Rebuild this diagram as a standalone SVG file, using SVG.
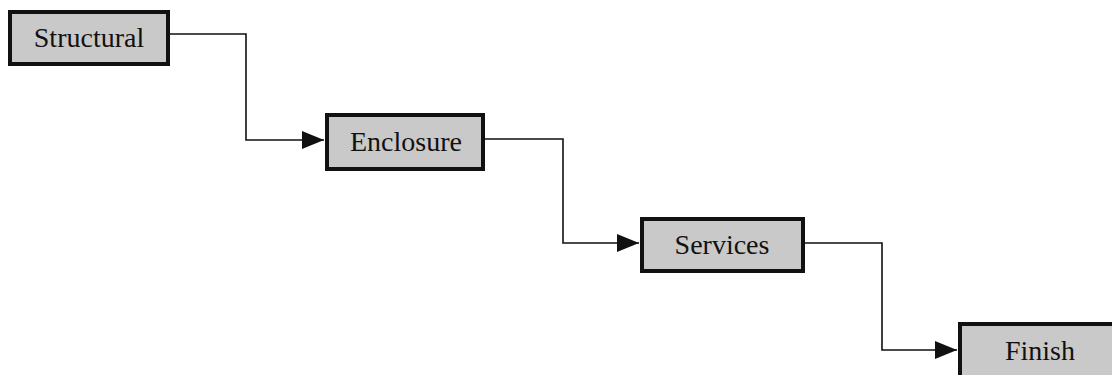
<svg xmlns="http://www.w3.org/2000/svg" width="1112" height="375" viewBox="0 0 1112 375">
<style>
.box{fill:#c9c9c9;stroke:#111;stroke-width:4}
.lbl{font-family:"Liberation Serif","Times New Roman",serif;font-size:28px;fill:#111;text-anchor:middle}
.con{fill:none;stroke:#111;stroke-width:1.6}
</style>
<defs>
<marker id="arr" markerWidth="22" markerHeight="18" refX="22" refY="9" orient="auto" markerUnits="userSpaceOnUse">
<path d="M0,0 L22,9 L0,18 Z" fill="#111"/>
</marker>
</defs>
<rect width="1112" height="375" fill="#fff"/>
<g id="connectors">
<path class="con" d="M170,34 H246 V140 H324" marker-end="url(#arr)"/>
<path class="con" d="M485,139 H563 V243 H639" marker-end="url(#arr)"/>
<path class="con" d="M805,243 H882 V350 H957" marker-end="url(#arr)"/>
</g>
<g id="structural">
<rect class="box" x="10" y="12" width="158" height="52"/>
<text class="lbl" x="89" y="47">Structural</text>
</g>
<g id="enclosure">
<rect class="box" x="327" y="115" width="156" height="54"/>
<text class="lbl" x="406" y="151">Enclosure</text>
</g>
<g id="services">
<rect class="box" x="642" y="219" width="161" height="52"/>
<text class="lbl" x="722" y="254">Services</text>
</g>
<g id="finish">
<rect class="box" x="960" y="324" width="160" height="56"/>
<text class="lbl" x="1040" y="360">Finish</text>
</g>
</svg>
